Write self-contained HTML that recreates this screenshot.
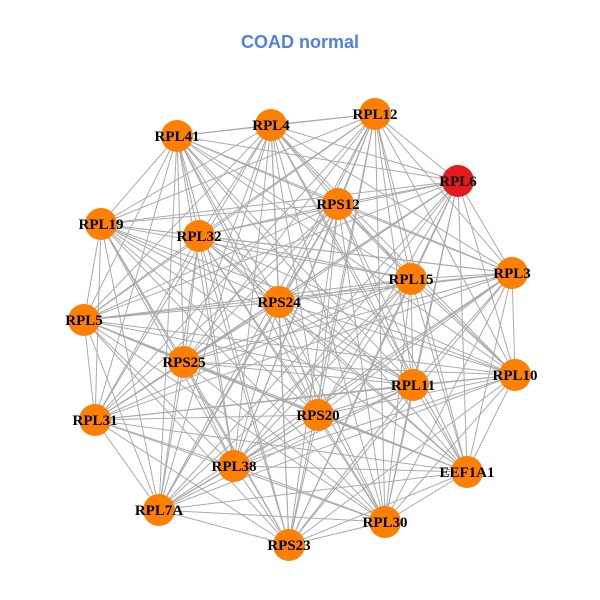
<!DOCTYPE html>
<html><head><meta charset="utf-8"><style>
body{margin:0;background:#fff;width:600px;height:600px;overflow:hidden}
svg{display:block}
</style></head><body>
<svg id="g" width="600" height="600" xmlns="http://www.w3.org/2000/svg">
<rect width="600" height="600" fill="#fff"/>
<text x="300" y="48" text-anchor="middle" font-family="Liberation Sans, sans-serif" font-weight="bold" font-size="18" fill="#4F7FEF">COAD normal</text>
<g id="edges" stroke="#aaaaaa" stroke-width="1"></g>
<g id="nodes"></g>
</svg>
<script>
var N=[["RPL41",177,136],["RPL4",271,125],["RPL12",375,114],["RPL6",458,181],["RPS12",338,204],["RPL19",101,224],["RPL32",199,236],["RPL3",512,273],["RPL15",411,279],["RPS24",279,302],["RPL5",84,320],["RPS25",184,362],["RPL10",515,375],["RPL11",413,385],["RPS20",318,415],["RPL31",95,420],["RPL38",234,466],["EEF1A1",467,472],["RPL7A",159,510],["RPL30",385,522],["RPS23",289,545]];
var ns="http://www.w3.org/2000/svg",E=document.getElementById("edges"),G=document.getElementById("nodes");
for(var i=0;i<N.length;i++)for(var j=i+1;j<N.length;j++){var l=document.createElementNS(ns,"line");l.setAttribute("x1",N[i][1]);l.setAttribute("y1",N[i][2]);l.setAttribute("x2",N[j][1]);l.setAttribute("y2",N[j][2]);E.appendChild(l);}
N.forEach(function(n){var c=document.createElementNS(ns,"circle");c.setAttribute("cx",n[1]);c.setAttribute("cy",n[2]);c.setAttribute("r",16);c.setAttribute("fill",n[0]=="RPL6"?"#E41A1C":"#FF7F00");G.appendChild(c);});
N.forEach(function(n){var t=document.createElementNS(ns,"text");t.setAttribute("x",n[1]);t.setAttribute("y",n[2]+5);t.setAttribute("text-anchor","middle");t.setAttribute("font-family","Liberation Serif, serif");t.setAttribute("font-weight","bold");t.setAttribute("font-size","15");t.textContent=n[0];G.appendChild(t);});
</script>
</body></html>
